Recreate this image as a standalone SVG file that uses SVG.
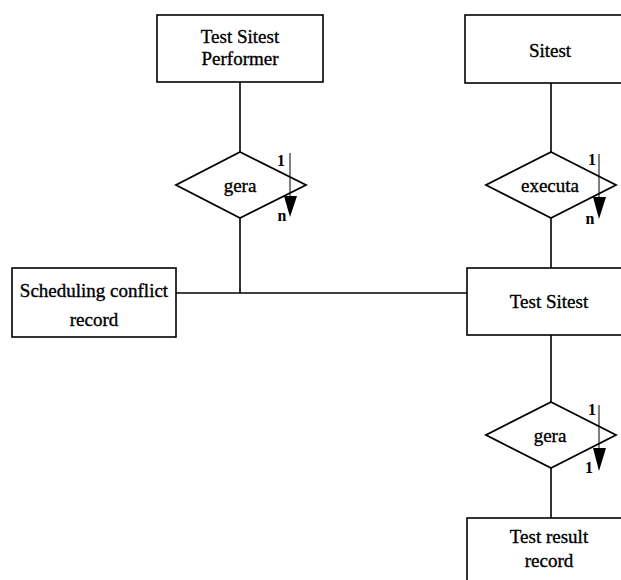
<svg xmlns="http://www.w3.org/2000/svg" width="621" height="580" viewBox="0 0 621 580">
<style>
.box{fill:#fff;stroke:#000;stroke-width:1.6}
.dia{fill:#fff;stroke:#000;stroke-width:1.8}
.ln{fill:none;stroke:#000;stroke-width:1.6}
.ar{fill:none;stroke:#000;stroke-width:1}
.head{fill:#000;stroke:none}
text{font-family:"Liberation Serif","Times New Roman",serif;fill:#000}
.t{font-size:19px;text-anchor:middle;stroke:#000;stroke-width:0.35}
.c{font-size:16px;font-weight:bold;text-anchor:middle}
</style>
<rect width="621" height="580" fill="#fff"/>
<g id="connectors">
<line class="ln" x1="240" y1="82" x2="240" y2="152"/>
<line class="ln" x1="240" y1="218" x2="240" y2="293"/>
<line class="ln" x1="176" y1="293" x2="467" y2="293"/>
<line class="ln" x1="551" y1="83" x2="551" y2="152"/>
<line class="ln" x1="551" y1="218" x2="551" y2="268"/>
<line class="ln" x1="551" y1="335" x2="551" y2="402"/>
<line class="ln" x1="551" y1="468" x2="551" y2="518"/>
</g>
<g id="performer">
<rect class="box" x="157" y="15" width="166" height="67"/>
<text class="t" x="240" y="43">Test Sitest</text>
<text class="t" x="240" y="65">Performer</text>
</g>
<g id="sitest">
<rect class="box" x="465" y="15" width="175" height="68"/>
<text class="t" x="550" y="57">Sitest</text>
</g>
<g id="gera1">
<polygon class="dia" points="240,152 306,185 240,218 176,185"/>
<text class="t" x="240" y="192">gera</text>
<line class="ar" x1="290" y1="153" x2="290" y2="200"/>
<polygon class="head" points="284,196 297,196 290,217"/>
<text class="c" x="281" y="166">1</text>
<text class="c" x="282" y="221">n</text>
</g>
<g id="executa">
<polygon class="dia" points="551,152 616,185 551,218 486,185"/>
<text class="t" x="550" y="192">executa</text>
<line class="ar" x1="599" y1="154" x2="599" y2="200"/>
<polygon class="head" points="593,197 606,197 599,219"/>
<text class="c" x="592" y="165">1</text>
<text class="c" x="590" y="224">n</text>
</g>
<g id="scheduling">
<rect class="box" x="12" y="268" width="164" height="69"/>
<text class="t" x="94" y="297">Scheduling conflict</text>
<text class="t" x="94" y="326">record</text>
</g>
<g id="testsitest">
<rect class="box" x="467" y="268" width="175" height="67"/>
<text class="t" x="549" y="308">Test Sitest</text>
</g>
<g id="gera2">
<polygon class="dia" points="551,402 616,435 551,468 486,435"/>
<text class="t" x="550" y="442">gera</text>
<line class="ar" x1="599" y1="405" x2="599" y2="452"/>
<polygon class="head" points="593,448 606,448 599,471"/>
<text class="c" x="592" y="415">1</text>
<text class="c" x="589" y="473">1</text>
</g>
<g id="testresult">
<rect class="box" x="467" y="518" width="175" height="80"/>
<text class="t" x="549" y="543">Test result</text>
<text class="t" x="549" y="567">record</text>
</g>
</svg>
